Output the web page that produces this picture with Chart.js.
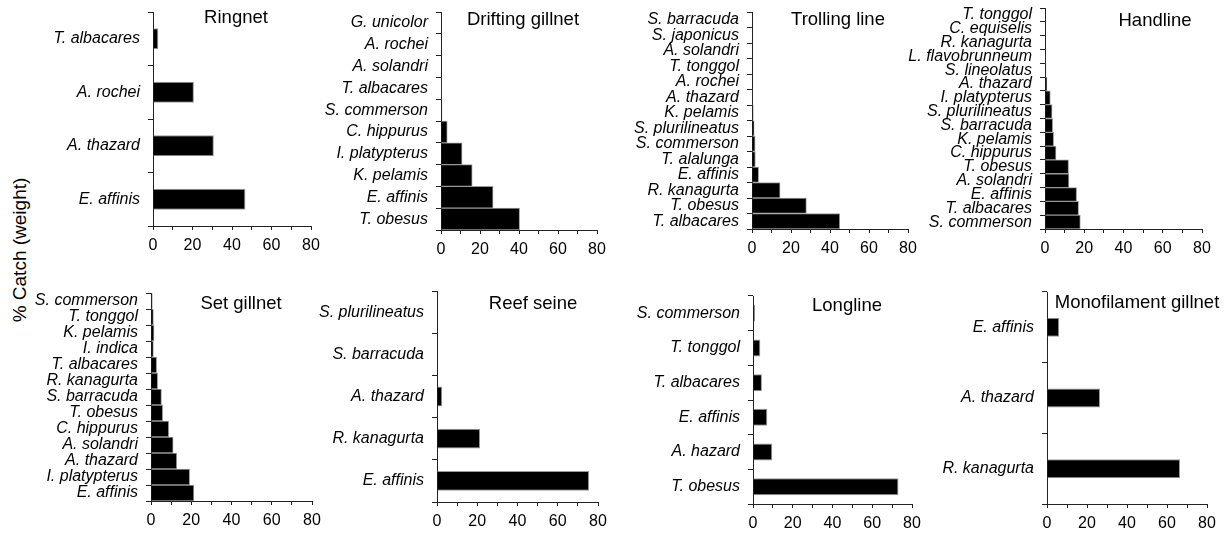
<!DOCTYPE html>
<html><head><meta charset="utf-8">
<script src="https://cdn.jsdelivr.net/npm/chart.js@4.4.1/dist/chart.umd.min.js"></script>
<style>
html,body{margin:0;padding:0;background:#fff;}
#wrap{position:relative;width:1226px;height:534px;overflow:hidden;font-family:"Liberation Sans",Arial,sans-serif;color:#000;}
canvas{position:absolute;}
.ttl{position:absolute;transform:translate(-50%,-50%);font-size:18.5px;white-space:nowrap;color:#000;line-height:1;}
#ytitle{position:absolute;left:19px;top:250px;transform:translate(-50%,-50%) rotate(-90deg);font-size:19px;white-space:nowrap;line-height:1;}
</style></head><body><div id="wrap"><div id="ytitle">% Catch (weight)</div></div>
<script>
// ---- data ----
const xTickLabels = [0, 20, 40, 60, 80];

const ringnetLabels = ['T. albacares', 'A. rochei', 'A. thazard', 'E. affinis'];
const ringnetValues = [2.7, 20.7, 30.8, 46.8];

const driftingLabels = ['G. unicolor', 'A. rochei', 'A. solandri', 'T. albacares', 'S. commerson', 'C. hippurus', 'I. platypterus', 'K. pelamis', 'E. affinis', 'T. obesus'];
const driftingValues = [0, 0, 0, 0.2, 0.5, 3.2, 10.8, 16, 26.7, 40.3];

const trollingLabels = ['S. barracuda', 'S. japonicus', 'A. solandri', 'T. tonggol', 'A. rochei', 'A. thazard', 'K. pelamis', 'S. plurilineatus', 'S. commerson', 'T. alalunga', 'E. affinis', 'R. kanagurta', 'T. obesus', 'T. albacares'];
const trollingValues = [0, 0, 0, 0, 0, 0.1, 0.6, 1.1, 1.6, 1.7, 3.4, 14.4, 27.9, 45];

const handlineLabels = ['T. tonggol', 'C. equiselis', 'R. kanagurta', 'L. flavobrunneum', 'S. lineolatus', 'A. thazard', 'I. platypterus', 'S. plurilineatus', 'S. barracuda', 'K. pelamis', 'C. hippurus', 'T. obesus', 'A. solandri', 'E. affinis', 'T. albacares', 'S. commerson'];
const handlineValues = [0, 0, 0, 0.1, 0.5, 1, 2.7, 3.6, 3.9, 4.4, 5.6, 12, 12.2, 16.1, 17.1, 18];

const setGillnetLabels = ['S. commerson', 'T. tonggol', 'K. pelamis', 'I. indica', 'T. albacares', 'R. kanagurta', 'S. barracuda', 'T. obesus', 'C. hippurus', 'A. solandri', 'A. thazard', 'I. platypterus', 'E. affinis'];
const setGillnetValues = [0.6, 1.2, 1.5, 1.2, 2.8, 3.3, 5.2, 5.8, 8.8, 11, 12.8, 19.2, 21.3];

const reefSeineLabels = ['S. plurilineatus', 'S. barracuda', 'A. thazard', 'R. kanagurta', 'E. affinis'];
const reefSeineValues = [0, 0, 2.6, 21.4, 75.6];

const longlineLabels = ['S. commerson', 'T. tonggol', 'T. albacares', 'E. affinis', 'A. hazard', 'T. obesus'];
const longlineValues = [1, 3.7, 4.5, 7.2, 9.7, 73.2];

const monoLabels = ['E. affinis', 'A. thazard', 'R. kanagurta'];
const monoValues = [6.1, 26.5, 66.5];

// ---- layout (plot area box: left, right, top, bottom; title centre) ----
const panels = [
  {title: 'Ringnet', labels: ringnetLabels, values: ringnetValues, box: [153, 311, 12, 226], bar: 0.39, tx: 236, ty: 17},
  {title: 'Drifting gillnet', labels: driftingLabels, values: driftingValues, box: [441, 597, 12, 230], bar: 1, tx: 523, ty: 19},
  {title: 'Trolling line', labels: trollingLabels, values: trollingValues, box: [752, 908, 12, 229], bar: 1, tx: 838, ty: 19},
  {title: 'Handline', labels: handlineLabels, values: handlineValues, box: [1045, 1202, 8, 229], bar: 1, tx: 1155, ty: 20},
  {title: 'Set gillnet', labels: setGillnetLabels, values: setGillnetValues, box: [151, 312, 293, 501], bar: 1, tx: 241, ty: 303},
  {title: 'Reef seine', labels: reefSeineLabels, values: reefSeineValues, box: [437, 598, 291, 502], bar: 0.47, tx: 533, ty: 303},
  {title: 'Longline', labels: longlineLabels, values: longlineValues, box: [753, 912, 296, 504], bar: 0.49, tx: 847, ty: 305},
  {title: 'Monofilament gillnet', labels: monoLabels, values: monoValues, box: [1047, 1207, 292, 504], bar: 0.27, tx: 1137, ty: 302}
];

const FONT = '"Liberation Sans", Arial, sans-serif';
const wrap = document.getElementById('wrap');

function makeChart(p) {
  const yW = 150, padTop = 24, xH = 40, padRight = 16;
  const [L, R, T, B] = p.box;
  const c = document.createElement('canvas');
  const w = yW + (R - L) + padRight, h = padTop + (B - T) + xH;
  c.width = w; c.height = h;
  c.style.left = (L - yW) + 'px'; c.style.top = (T - padTop) + 'px';
  c.style.width = w + 'px'; c.style.height = h + 'px';
  wrap.appendChild(c);

  const t = document.createElement('div');
  t.className = 'ttl'; t.textContent = p.title;
  t.style.left = p.tx + 'px'; t.style.top = p.ty + 'px';
  wrap.appendChild(t);

  new Chart(c, {
    type: 'bar',
    data: {
      labels: p.labels,
      datasets: [{
        data: p.values,
        backgroundColor: '#000',
        borderColor: '#999',
        borderWidth: 1,
        borderSkipped: 'start',
        barPercentage: p.bar,
        categoryPercentage: 1
      }]
    },
    options: {
      indexAxis: 'y',
      responsive: false,
      animation: false,
      devicePixelRatio: 1,
      layout: {padding: {top: padTop, right: padRight, left: 0, bottom: 0}},
      plugins: {legend: {display: false}, tooltip: {enabled: false}, title: {display: false}},
      scales: {
        x: {
          type: 'linear', min: 0, max: 80,
          afterFit: s => { s.height = xH; },
          ticks: {
            stepSize: 10, autoSkip: false, maxRotation: 0, padding: 6, color: '#000',
            font: {family: FONT, size: 16},
            callback: v => xTickLabels.includes(v) ? String(v) : ''
          },
          grid: {drawOnChartArea: false, drawTicks: true, tickLength: 4, color: '#222', lineWidth: 1},
          border: {display: true, color: '#222', width: 1}
        },
        y: {
          afterFit: s => { s.width = yW; },
          ticks: {autoSkip: false, padding: 8, color: '#000', font: {family: FONT, size: 16, style: 'italic'}},
          grid: {drawOnChartArea: false, drawTicks: true, tickLength: 5, offset: true, color: '#222', lineWidth: 1},
          border: {display: true, color: '#222', width: 1}
        }
      }
    }
  });
}

panels.forEach(makeChart);
</script>
</body></html>
